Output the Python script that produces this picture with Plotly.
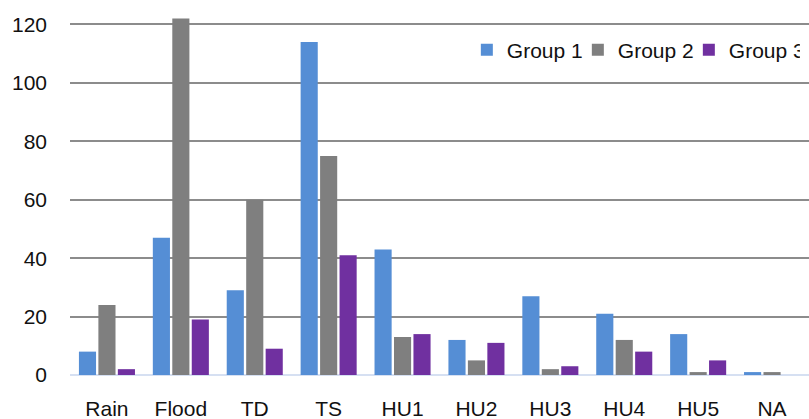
import plotly.graph_objects as go

categories = ["Rain", "Flood", "TD", "TS", "HU1", "HU2", "HU3", "HU4", "HU5", "NA"]
group1 = [8, 47, 29, 114, 43, 12, 27, 21, 14, 1]
group2 = [24, 122, 60, 75, 13, 5, 2, 12, 1, 1]
group3 = [2, 19, 9, 41, 14, 11, 3, 8, 5, 0]
series_names = ["Group 1", "Group 2", "Group 3"]
colors = ["#558ED5", "#7F7F7F", "#7030A0"]
y_ticks = [0, 20, 40, 60, 80, 100, 120]

fig = go.Figure()
for name, vals, col in zip(series_names, [group1, group2, group3], colors):
    fig.add_trace(go.Bar(x=categories, y=vals, name=name, marker=dict(color=col, line=dict(width=0))))

font = dict(family="Liberation Sans, Arial, sans-serif", size=21, color="#111111")
fig.update_layout(
    width=809, height=419,
    margin=dict(l=70, r=0, t=4, b=44, autoexpand=False),
    paper_bgcolor="white", plot_bgcolor="white",
    barmode="group", bargap=0.21, bargroupgap=0.12,
    font=font,
    showlegend=True,
    legend=dict(orientation="h", x=0.537, xanchor="left", y=0.876, yanchor="middle",
                font=font, bgcolor="rgba(0,0,0,0)", itemwidth=30, traceorder="normal",
                entrywidth=66),
    xaxis=dict(showgrid=False, showline=False, zeroline=False, ticks="", automargin=False,
               ticklabelstandoff=19, tickfont=font),
    yaxis=dict(range=[0, 127], tickvals=y_ticks, showgrid=True, gridcolor="#8C8C8C",
               gridwidth=1.5, zeroline=True, zerolinecolor="#D6E0F2", zerolinewidth=2,
               automargin=False, showline=False, ticks="", ticklabelstandoff=22, tickfont=font),
)
fig.write_html("out.html", config={"displayModeBar": False},
               post_script="document.body.style.margin='0';document.body.style.overflow='hidden';")
